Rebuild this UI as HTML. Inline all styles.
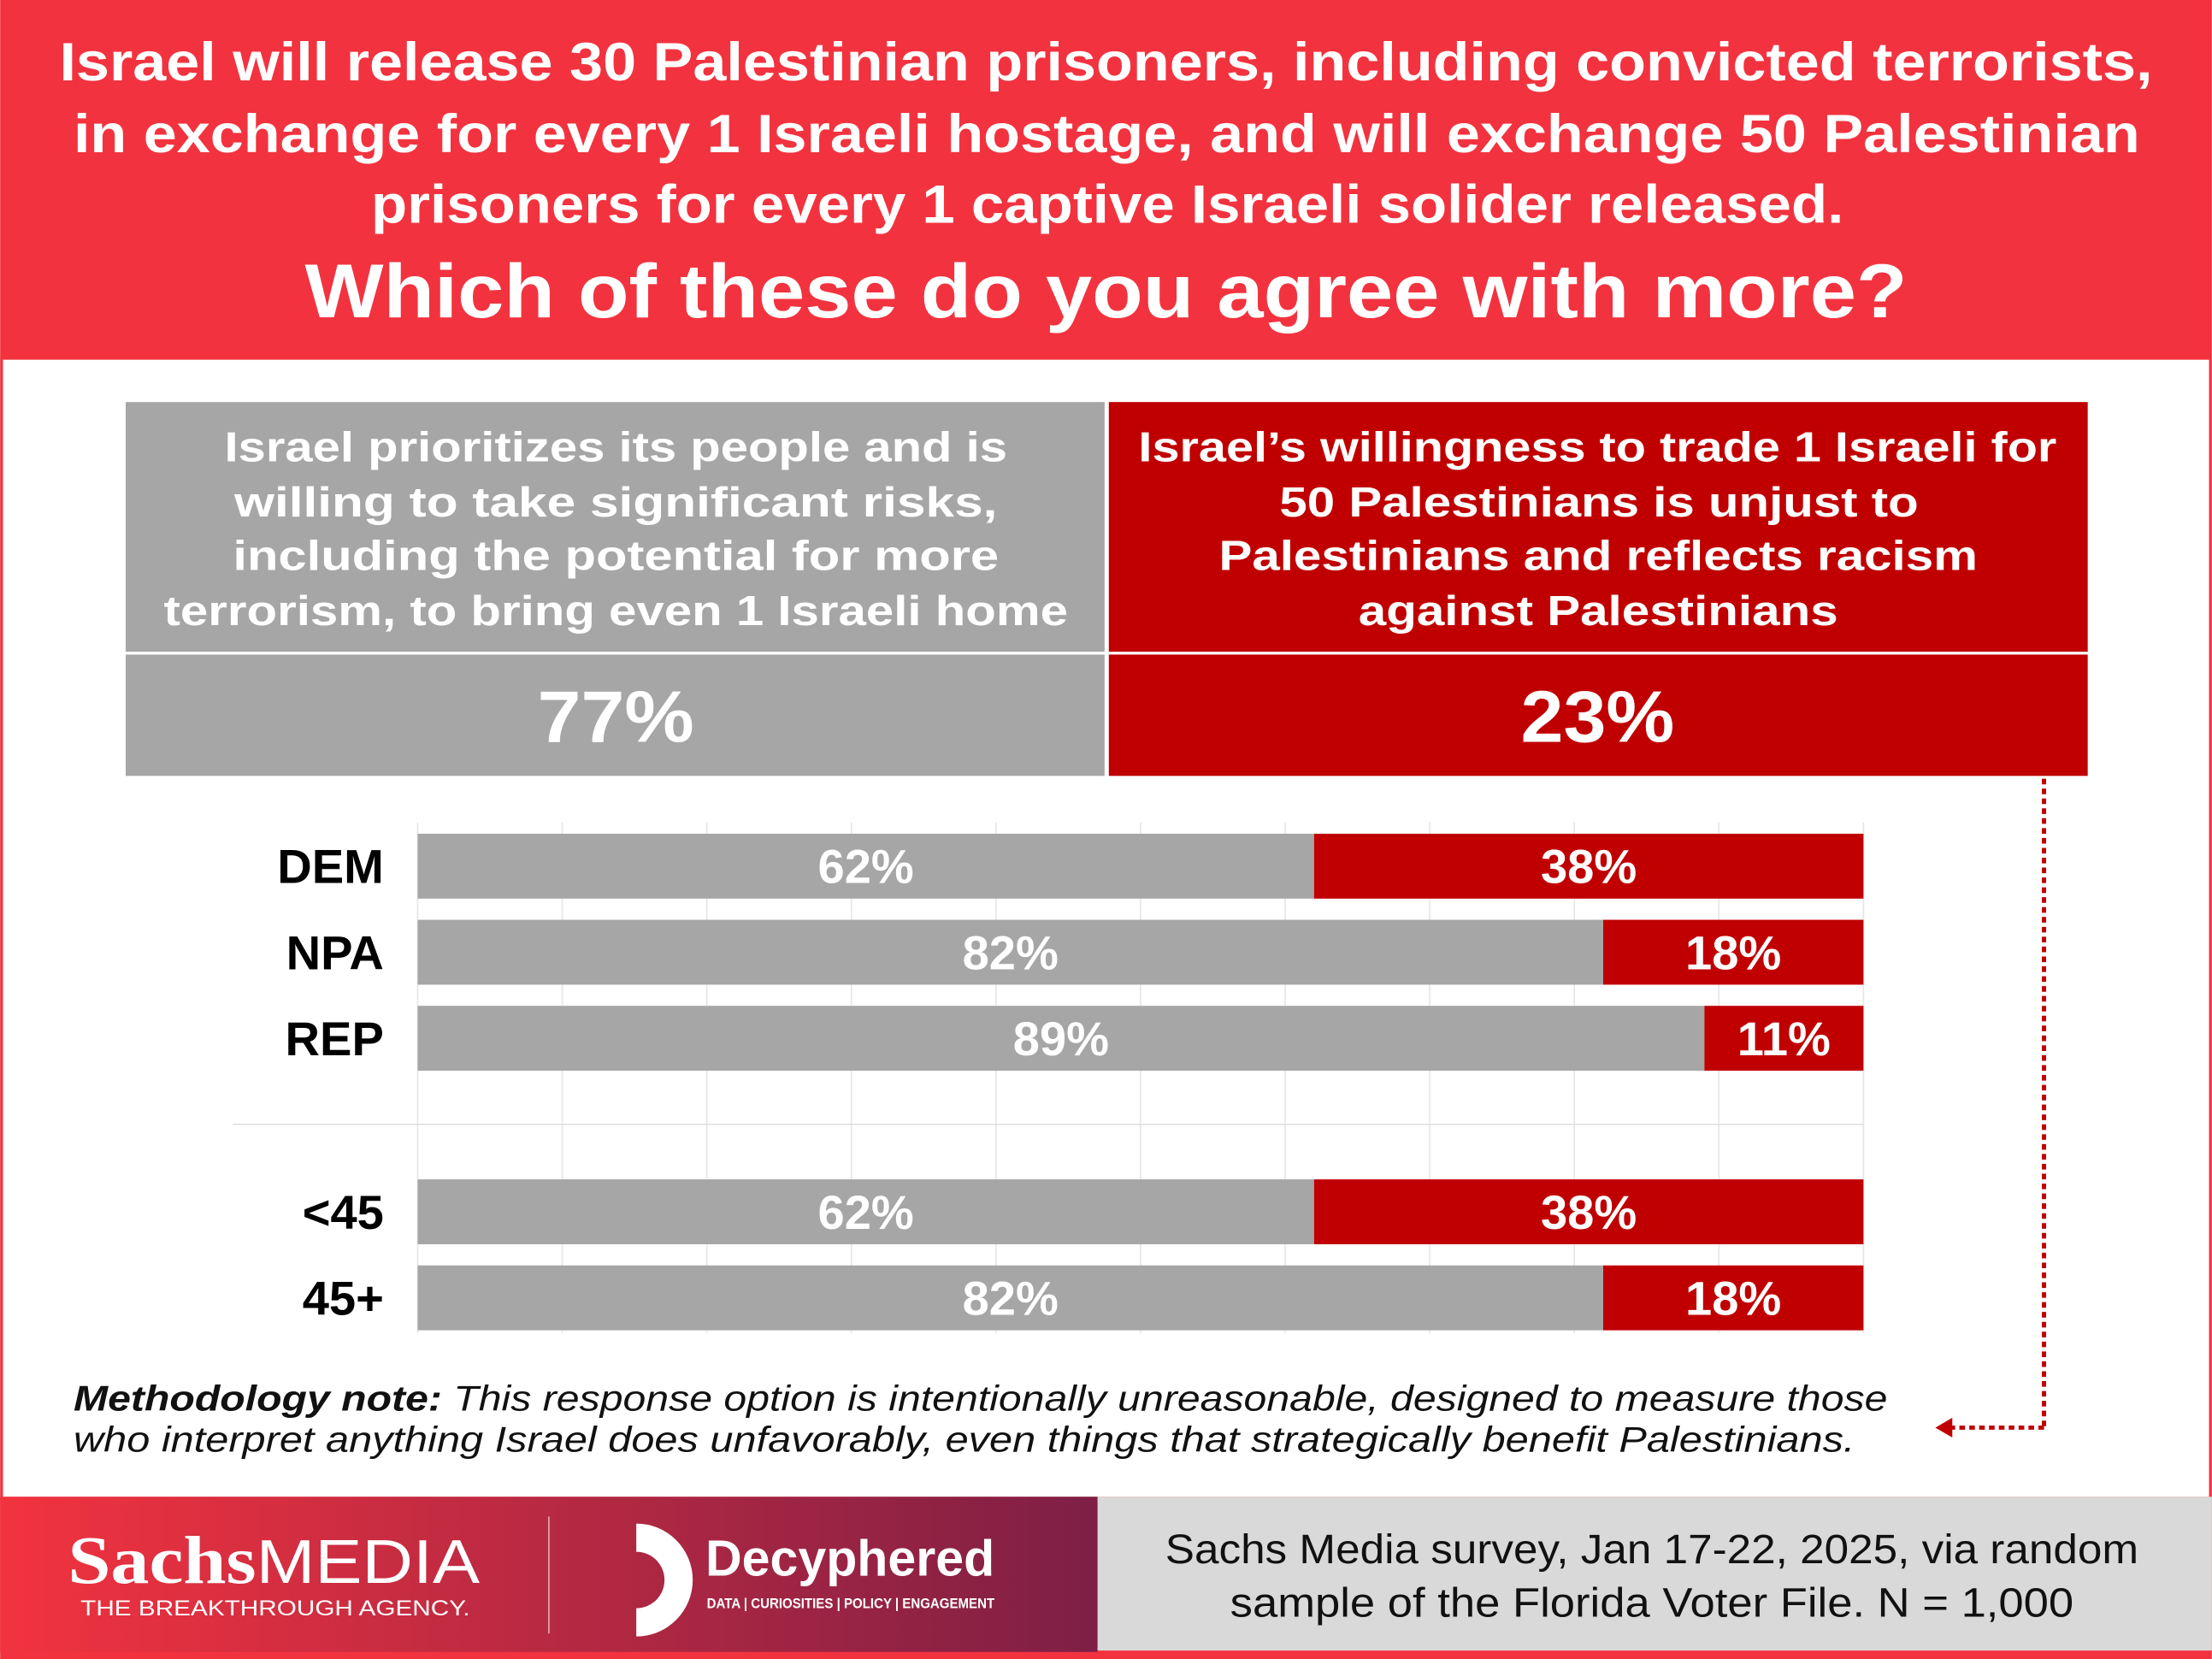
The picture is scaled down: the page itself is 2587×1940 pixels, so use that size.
<!DOCTYPE html>
<html><head><meta charset="utf-8"><style>
html,body{margin:0;padding:0;background:#fff;}
svg{display:block;font-family:"Liberation Sans",sans-serif;}
</style></head><body>
<svg id="chart" width="2587" height="1940" viewBox="0 0 1568 1176" xmlns="http://www.w3.org/2000/svg">
<defs><linearGradient id="fg" x1="0" x2="1"><stop offset="0" stop-color="#f2333f"/><stop offset="1" stop-color="#7e1f45"/></linearGradient></defs>
<rect x="0" y="0" width="1568" height="1176" fill="#f2333f"/>
<rect x="2" y="255" width="1564" height="806" fill="#fff"/>
<g fill="#fff" font-weight="bold" lengthAdjust="spacingAndGlyphs">
<text x="42" y="57" font-size="38" textLength="1484" lengthAdjust="spacingAndGlyphs">Israel will release 30 Palestinian prisoners, including convicted terrorists,</text>
<text x="52" y="108" font-size="38" textLength="1465" lengthAdjust="spacingAndGlyphs">in exchange for every 1 Israeli hostage, and will exchange 50 Palestinian</text>
<text x="263" y="158" font-size="38" textLength="1044" lengthAdjust="spacingAndGlyphs">prisoners for every 1 captive Israeli solider released.</text>
<text x="216" y="225" font-size="54" textLength="1136" lengthAdjust="spacingAndGlyphs">Which of these do you agree with more?</text>
</g>
<rect x="89" y="285" width="694" height="177" fill="#a6a6a6"/>
<rect x="786" y="285" width="694" height="177" fill="#c00000"/>
<rect x="89" y="464" width="694" height="86" fill="#a6a6a6"/>
<rect x="786" y="464" width="694" height="86" fill="#c00000"/>
<g fill="#fff" font-weight="bold" font-size="30">
<text x="159" y="327" textLength="555" lengthAdjust="spacingAndGlyphs">Israel prioritizes its people and is</text>
<text x="166" y="366" textLength="541" lengthAdjust="spacingAndGlyphs">willing to take significant risks,</text>
<text x="165" y="404" textLength="543" lengthAdjust="spacingAndGlyphs">including the potential for more</text>
<text x="116" y="443" textLength="641" lengthAdjust="spacingAndGlyphs">terrorism, to bring even 1 Israeli home</text>
<text x="807" y="327" textLength="651" lengthAdjust="spacingAndGlyphs">Israel’s willingness to trade 1 Israeli for</text>
<text x="907" y="366" textLength="453" lengthAdjust="spacingAndGlyphs">50 Palestinians is unjust to</text>
<text x="864" y="404" textLength="538" lengthAdjust="spacingAndGlyphs">Palestinians and reflects racism</text>
<text x="963" y="443" textLength="340" lengthAdjust="spacingAndGlyphs">against Palestinians</text>
<text x="381" y="526" font-size="52" textLength="111" lengthAdjust="spacingAndGlyphs">77%</text>
<text x="1078" y="526" font-size="52" textLength="109" lengthAdjust="spacingAndGlyphs">23%</text>
</g>
<g id="grid"></g>
<line x1="165" y1="797" x2="1321" y2="797" stroke="#e0e0e0" stroke-width="1"/>
<g id="bars"></g>
<g stroke="#c00000" stroke-width="3" stroke-dasharray="4,3" fill="none">
<line x1="1449" y1="552" x2="1449" y2="1012"/><line x1="1449" y1="1012" x2="1382" y2="1012"/>
</g>
<polygon points="1372,1012 1384,1005 1384,1019" fill="#c00000"/>
<g font-style="italic" font-size="25" fill="#111">
<text x="52" y="1000" textLength="1286" lengthAdjust="spacingAndGlyphs"><tspan font-weight="bold">Methodology note:</tspan> This response option is intentionally unreasonable, designed to measure those</text>
<text x="52" y="1029" textLength="1263" lengthAdjust="spacingAndGlyphs">who interpret anything Israel does unfavorably, even things that strategically benefit Palestinians.</text>
</g>
<rect x="0" y="1061" width="778" height="110" fill="url(#fg)"/>
<rect x="778" y="1061" width="790" height="109" fill="#d9d9d9"/>
<g fill="#fff">
<text x="48" y="1122" font-family="Liberation Serif,serif" font-weight="bold" font-size="48" textLength="292" lengthAdjust="spacingAndGlyphs">Sachs<tspan font-family="Liberation Sans,sans-serif" font-weight="normal" font-size="44">MEDIA</tspan></text>
<text x="57" y="1145" font-size="15" textLength="276" lengthAdjust="spacingAndGlyphs">THE BREAKTHROUGH AGENCY.</text>
</g>
<line x1="389" y1="1075" x2="389" y2="1158" stroke="#fff" stroke-opacity="0.6"/>
<g fill="#fff">
<path d="M451,1080 A40,40 0 0 1 451,1160 L451,1140 A20,20 0 0 0 451,1100 Z"/>
<text x="500" y="1117" font-weight="bold" font-size="36" textLength="205" lengthAdjust="spacingAndGlyphs">Decyphered</text>
<text x="501" y="1140" font-weight="bold" font-size="10" textLength="204" lengthAdjust="spacingAndGlyphs">DATA | CURIOSITIES | POLICY | ENGAGEMENT</text>
</g>
<g font-size="29" fill="#111">
<text x="826" y="1108" textLength="690" lengthAdjust="spacingAndGlyphs">Sachs Media survey, Jan 17-22, 2025, via random</text>
<text x="872" y="1146" textLength="598" lengthAdjust="spacingAndGlyphs">sample of the Florida Voter File. N = 1,000</text>
</g>
<script>
const categories=["DEM","NPA","REP","<45","45+"];
const agreeValues=[62,82,89,62,82];
const unjustValues=[38,18,11,38,18];
const ticks=[0,10,20,30,40,50,60,70,80,90,100];
const NS="http://www.w3.org/2000/svg";
const x0=296,x1=1321;
const xs=v=>x0+(x1-x0)*v/100;
const rowTops=[591,652,713,836,897];
const bh=46;
const grid=document.getElementById('grid');
ticks.forEach(t=>{const l=document.createElementNS(NS,'line');
l.setAttribute('x1',xs(t));l.setAttribute('x2',xs(t));l.setAttribute('y1',583);l.setAttribute('y2',945);
l.setAttribute('stroke','#e6e6e6');l.setAttribute('stroke-width','1');


grid.appendChild(l);});
const g=document.getElementById('bars');
function mk(tag,attrs){const e=document.createElementNS(NS,tag);for(const k in attrs)e.setAttribute(k,attrs[k]);g.appendChild(e);return e;}
const fs=34;
categories.forEach((c,i)=>{const y=rowTops[i];
const lab=mk('text',{x:272,y:y+bh/2+12,'text-anchor':'end','font-size':fs,'font-weight':'bold',fill:'#000'});lab.textContent=c;


const a=agreeValues[i],b=unjustValues[i];
const r1=mk('rect',{x:xs(0),y:y,width:xs(a)-xs(0),height:bh,fill:'#a6a6a6'});


const r2=mk('rect',{x:xs(a),y:y,width:xs(a+b)-xs(a),height:bh,fill:'#c00000'});


const t1=mk('text',{x:(xs(0)+xs(a))/2,y:y+bh/2+12,'text-anchor':'middle','font-size':fs,'font-weight':'bold',fill:'#fff'});t1.textContent=a+'%';


const t2=mk('text',{x:(xs(a)+xs(a+b))/2,y:y+bh/2+12,'text-anchor':'middle','font-size':fs,'font-weight':'bold',fill:'#fff'});t2.textContent=b+'%';


});
</script>
</svg>
</body></html>
